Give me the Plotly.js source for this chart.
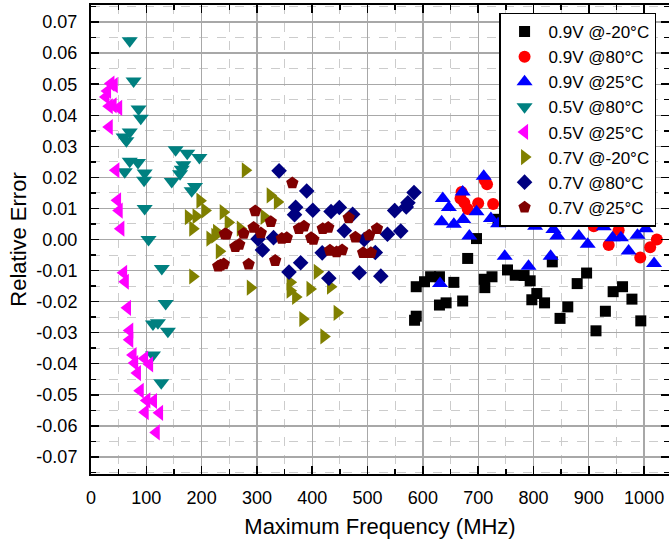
<!DOCTYPE html>
<html>
<head>
<meta charset="utf-8">
<script src="https://cdn.plot.ly/plotly-3.0.1.min.js"></script>
<style>
  html, body { margin: 0; padding: 0; background: #fff; }
  #chart { width: 669px; height: 544px; }
</style>
</head>
<body>
<div id="chart"></div>
<script>
// ---- Data ----
const seriesNames = ['0.9V @-20°C', '0.9V @80°C', '0.9V @25°C', '0.5V @80°C',
                     '0.5V @25°C', '0.7V @-20°C', '0.7V @80°C', '0.7V @25°C'];

const v09m20_x = [697, 681, 588, 603, 614, 630, 585, 588, 630, 642, 656, 672, 711, 712, 725, 753, 767, 783, 794, 806, 797, 820, 862, 848, 879, 896, 834, 913, 930, 944, 961, 978, 994, 736];
const v09m20_y = [0.0003, -0.0061, -0.0152, -0.0136, -0.012, -0.012, -0.026, -0.0247, -0.0211, -0.0204, -0.0138, -0.0198, -0.0128, -0.0155, -0.012, -0.0098, -0.0115, -0.0116, -0.0133, -0.0174, -0.0194, -0.0204, -0.0217, -0.0254, -0.0142, -0.0108, -0.0072, -0.0294, -0.0231, -0.0168, -0.0152, -0.0192, -0.0262, 0.0065];

const v09t80_x = [670, 668, 675, 681, 700, 712, 716, 727, 909, 954, 936, 993, 1011, 1023];
const v09t80_y = [0.0153, 0.0132, 0.0118, 0.0098, 0.0117, 0.0191, 0.0178, 0.0114, 0.0043, 0.003, -0.0018, -0.0058, -0.0025, 0.0];

const v09t25_x = [710, 672, 636, 647, 634, 656, 673, 697, 684, 723, 736, 748, 631, 791, 831, 803, 836, 843, 882, 898, 927, 943, 958, 972, 988, 1003, 1018, 762];
const v09t25_y = [0.0204, 0.0153, 0.0132, 0.0103, 0.0057, 0.0049, 0.0064, 0.0089, 0.0011, 0.0068, 0.0051, -0.0054, -0.0142, -0.0086, -0.0054, 0.0043, 0.0032, 0.0011, 0.0011, -0.0015, 0.0041, 0.0006, 0.0006, -0.0037, 0.0014, 0.0035, -0.0077, 0.0053];

const v05t80_x = [70, 77, 86, 90, 70, 59, 64, 70, 85, 61, 97, 96, 153, 174, 196, 167, 164, 161, 146, 182, 188, 97, 104, 128, 135, 112, 121, 139, 112, 127];
const v05t80_y = [0.064, 0.051, 0.042, 0.039, 0.0346, 0.033, 0.0318, 0.0252, 0.0248, 0.0218, 0.0214, 0.0191, 0.0289, 0.0278, 0.0264, 0.0241, 0.0226, 0.0212, 0.0187, 0.0157, 0.0171, 0.010, 0.0, -0.0093, -0.0206, -0.0272, -0.0268, -0.0295, -0.0372, -0.0461];

const v05t25_x = [36, 42, 30, 27, 33, 40, 50, 33, 45, 48, 51, 54, 59, 62, 66, 70, 70, 76, 79, 97, 106, 84, 89, 101, 113, 98, 124, 118];
const v05t25_y = [0.0502, 0.0497, 0.0478, 0.0459, 0.0429, 0.0432, 0.0424, 0.0362, 0.0223, 0.0126, 0.0093, 0.0035, -0.0107, -0.0136, -0.022, -0.0293, -0.0323, -0.0372, -0.0398, -0.0383, -0.0402, -0.043, -0.0487, -0.0518, -0.052, -0.0556, -0.0558, -0.0621];

const v07m20_x = [197, 206, 176, 190, 184, 215, 224, 227, 232, 184, 239, 248, 279, 324, 337, 313, 270, 288, 409, 360, 360, 370, 396, 433, 445, 383, 421];
const v07m20_y = [0.0125, 0.0093, 0.0072, 0.0075, 0.0035, 0.0003, 0.0012, 0.0025, -0.0038, -0.0119, 0.0088, 0.0055, 0.0223, 0.0142, 0.0121, 0.0073, 0.0035, -0.0155, -0.0104, -0.0138, -0.0165, -0.0185, -0.0159, -0.0152, -0.0236, -0.0256, -0.0312];

const v07t80_x = [340, 390, 370, 368, 401, 434, 449, 473, 458, 418, 310, 302, 330, 379, 358, 430, 485, 524, 549, 560, 536, 494, 514, 584, 573, 570];
const v07t80_y = [0.0221, 0.0156, 0.0104, 0.008, 0.0094, 0.009, 0.0103, 0.0081, 0.0028, -0.0043, -0.0034, 0.0002, 0.0006, -0.0075, -0.0105, -0.0125, -0.0107, -0.0118, 0.0093, 0.0027, 0.0017, 0.0, -0.0042, 0.0151, 0.0118, 0.0105];

const v07t25_x = [364, 297, 325, 245, 276, 294, 307, 261, 268, 234, 240, 285, 333, 345, 354, 376, 385, 398, 402, 419, 429, 432, 444, 454, 466, 478, 503, 517, 492, 506, 242, 230];
const v07t25_y = [0.0182, 0.0092, 0.0057, 0.0017, 0.0019, 0.0039, 0.0021, -0.0023, -0.0016, -0.0083, -0.0079, -0.008, -0.0068, 0.0003, 0.0006, 0.0035, 0.0043, 0.0006, 0.0, 0.0035, 0.0039, -0.0035, -0.004, -0.0034, 0.007, 0.0007, 0.0014, 0.0035, -0.0043, -0.0043, 0.0018, -0.0086];

const xTickVals = [0, 100, 200, 300, 400, 500, 600, 700, 800, 900, 1000];
const xTickText = ['0', '100', '200', '300', '400', '500', '600', '700', '800', '900', '1000'];
const yTickVals = [0.07, 0.06, 0.05, 0.04, 0.03, 0.02, 0.01, 0.0, -0.01, -0.02, -0.03, -0.04, -0.05, -0.06, -0.07];
const yTickText = ['0.07', '0.06', '0.05', '0.04', '0.03', '0.02', '0.01', '0.00', '-0.01', '-0.02', '-0.03', '-0.04', '-0.05', '-0.06', '-0.07'];

const xTitle = 'Maximum Frequency (MHz)';
const yTitle = 'Relative Error';

// ---- Styles ----
const styles = [
  {symbol: 'square',         color: '#000000', size: 11},
  {symbol: 'circle',         color: '#FF0000', size: 12},
  {symbol: 'triangle-up',    color: '#0000FF', size: 14},
  {symbol: 'triangle-down',  color: '#008080', size: 14},
  {symbol: 'triangle-left',  color: '#FF00FF', size: 14},
  {symbol: 'triangle-right', color: '#808000', size: 14},
  {symbol: 'diamond',        color: '#000080', size: 12},
  {symbol: 'pentagon',       color: '#800000', size: 13}
];
const xs = [v09m20_x, v09t80_x, v09t25_x, v05t80_x, v05t25_x, v07m20_x, v07t80_x, v07t25_x];
const ys = [v09m20_y, v09t80_y, v09t25_y, v05t80_y, v05t25_y, v07m20_y, v07t80_y, v07t25_y];

const traces = seriesNames.map((name, i) => ({
  type: 'scatter', mode: 'markers', name: name,
  x: xs[i], y: ys[i],
  marker: {symbol: styles[i].symbol, color: styles[i].color, size: styles[i].size,
           line: {width: 0}}
}));

const fontFam = 'Liberation Sans, Arial, sans-serif';
const axisCommon = {
  showline: true, linecolor: '#000', linewidth: 2, mirror: 'allticks',
  ticks: 'inside', ticklen: 8, tickwidth: 1.5, tickcolor: '#000',
  showgrid: true, gridcolor: '#a8a8a8', gridwidth: 1.3,
  zeroline: false,
  tickfont: {family: fontFam, size: 18, color: '#000'},
  tickmode: 'array'
};

const layout = {
  width: 669, height: 544,
  margin: {l: 91, r: 0, t: 5, b: 70},
  paper_bgcolor: '#fff', plot_bgcolor: '#fff',
  font: {family: fontFam, color: '#000'},
  showlegend: true,
  legend: {
    x: 0.706, y: 0.984, xanchor: 'left', yanchor: 'top',
    bgcolor: '#fff', bordercolor: '#000', borderwidth: 1.5,
    font: {family: fontFam, size: 17, color: '#000'},
    itemwidth: 38, tracegroupgap: 0, itemsizing: 'trace'
  },
  xaxis: Object.assign({}, axisCommon, {
    range: [0, 1045],
    tickvals: xTickVals, ticktext: xTickText,
    ticklabelstandoff: 6,
    minor: {tickmode: 'linear', tick0: 0, dtick: 50, ticks: 'inside', ticklen: 5, tickwidth: 1.5, tickcolor: '#000',
            showgrid: true, gridcolor: '#cccccc', griddash: 'dash', gridwidth: 1},
    title: {text: xTitle, font: {family: fontFam, size: 22, color: '#000'}, standoff: 12}
  }),
  yaxis: Object.assign({}, axisCommon, {
    range: [-0.0755, 0.0755],
    tickvals: yTickVals, ticktext: yTickText,
    ticklabelstandoff: 8,
    minor: {tickmode: 'linear', tick0: 0, dtick: 0.005, ticks: 'inside', ticklen: 5, tickwidth: 1.5, tickcolor: '#000',
            showgrid: true, gridcolor: '#cccccc', griddash: 'dash', gridwidth: 1},
    title: {text: yTitle, font: {family: fontFam, size: 22, color: '#000'}, standoff: 4}
  })
};

Plotly.newPlot('chart', traces, layout, {displayModeBar: false, staticPlot: true});
</script>
</body>
</html>
